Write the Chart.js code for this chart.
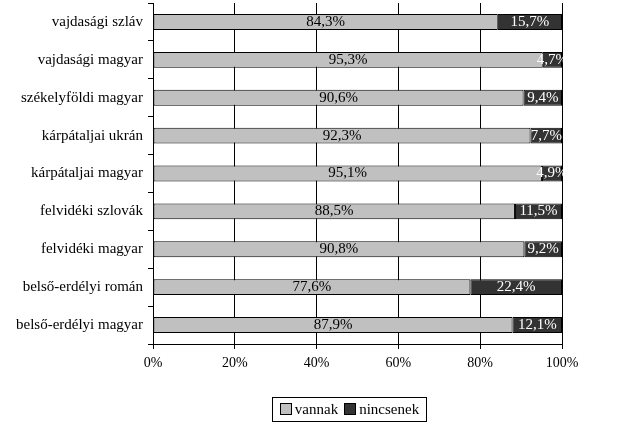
<!DOCTYPE html>
<html lang="hu">
<head>
  <meta charset="UTF-8" />
  <title>vannak / nincsenek</title>
  <script src="https://cdn.jsdelivr.net/npm/chart.js"></script>
  <style>
    body { margin: 0; background: #fff; }
    .wrap { position: relative; width: 640px; height: 444px; }
    #legend {
      position: absolute; left: 272px; top: 397px; width: 155px; height: 25px;
      border: 1px solid #000; box-sizing: border-box;
      font: 15px "Liberation Serif", serif; color: #000;
      display: flex; align-items: center; justify-content: center; gap: 6px;
    }
    #legend span.box { display: inline-block; width: 10px; height: 10px; border: 1px solid #000; margin-right: 3px; vertical-align: -1px; }
  </style>
</head>
<body>
  <div class="wrap">
    <canvas id="chart" width="640" height="444"></canvas>
    <div id="legend">
      <span><span class="box" style="background:#c0c0c0"></span>vannak</span>
      <span><span class="box" style="background:#333333"></span>nincsenek</span>
    </div>
  </div>

  <script>
    const categories = [
      "vajdasági szláv",
      "vajdasági magyar",
      "székelyföldi magyar",
      "kárpátaljai ukrán",
      "kárpátaljai magyar",
      "felvidéki szlovák",
      "felvidéki magyar",
      "belső-erdélyi román",
      "belső-erdélyi magyar"
    ];
    const vannak = [84.3, 95.3, 90.6, 92.3, 95.1, 88.5, 90.8, 77.6, 87.9];
    const nincsenek = [15.7, 4.7, 9.4, 7.7, 4.9, 11.5, 9.2, 22.4, 12.1];

    const font = "Liberation Serif";

    // value labels centred in each segment
    const segLabels = {
      id: "segLabels",
      afterDatasetsDraw(chart) {
        const ctx = chart.ctx;
        ctx.save();
        ctx.font = "15px '" + font + "'";
        ctx.textAlign = "center";
        ctx.textBaseline = "middle";
        chart.data.datasets.forEach((ds, i) => {
          chart.getDatasetMeta(i).data.forEach((bar, j) => {
            const x = (bar.x + bar.base) / 2;
            ctx.fillStyle = i === 0 ? "#000" : "#fff";
            ctx.fillText(ds.data[j].toFixed(1).replace(".", ",") + "%", x, bar.y);
          });
        });
        ctx.restore();
      }
    };

    new Chart(document.getElementById("chart"), {
      type: "bar",
      data: {
        labels: categories,
        datasets: [
          { label: "vannak", data: vannak, backgroundColor: "#c0c0c0", borderColor: "#000", borderWidth: 1, borderSkipped: false },
          { label: "nincsenek", data: nincsenek, backgroundColor: "#333333", borderColor: "#000", borderWidth: 1, borderSkipped: false }
        ]
      },
      options: {
        indexAxis: "y",
        responsive: false,
        animation: false,
        layout: { padding: { top: 3, right: 78, left: 0, bottom: 0 } },
        datasets: { bar: { categoryPercentage: 0.42, barPercentage: 1 } },
        plugins: { legend: { display: false }, tooltip: { enabled: false } },
        scales: {
          x: {
            stacked: true,
            min: 0, max: 100,
            ticks: { stepSize: 20, callback: v => v + "%", color: "#000", font: { family: font, size: 14 }, padding: 6 },
            grid: { color: "#000", lineWidth: 1, tickLength: 5 },
            border: { color: "#000" },
            afterFit: s => { s.height = 100; s.paddingLeft = 0; s.paddingRight = 0; }
          },
          y: {
            stacked: true,
            ticks: { color: "#000", font: { family: font, size: 15 }, padding: 5 },
            grid: { drawOnChartArea: false, offset: true, color: "#000", tickLength: 5 },
            border: { color: "#000" },
            afterFit: s => { s.width = 153; s.paddingTop = 0; s.paddingBottom = 0; }
          }
        }
      },
      plugins: [segLabels]
    });
  </script>
</body>
</html>
